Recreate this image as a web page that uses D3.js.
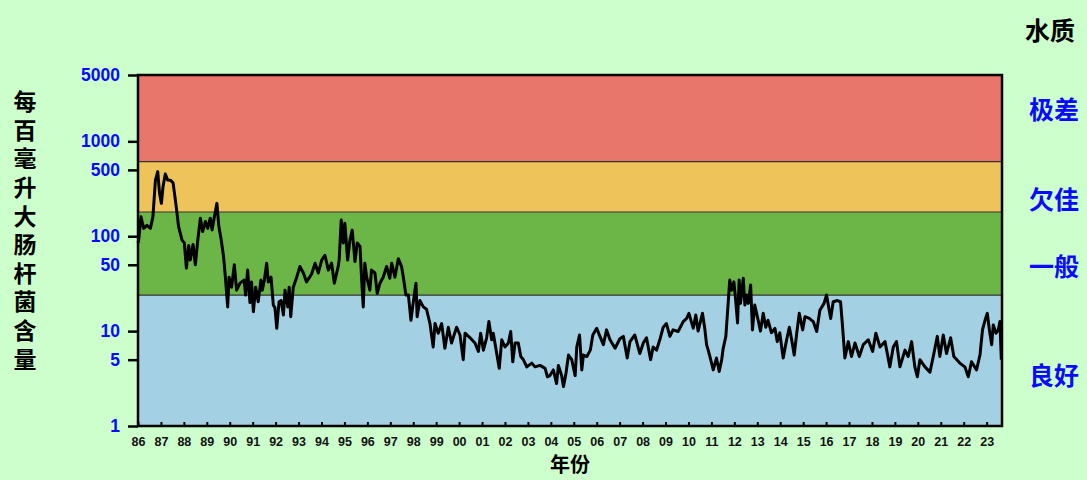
<!DOCTYPE html>
<html>
<head>
<meta charset="utf-8">
<script src="https://cdn.jsdelivr.net/npm/d3@7"></script>
<style>
  body { margin: 0; background: #ccffcc; }
  svg { display: block; }
</style>
</head>
<body>
<div id="main"></div>
<script>
var WIDTH = 1087
var HEIGHT = 480

// E. coli count per 100 mL, [year, value]
var ecoli = [
  [1986.00, 85], [1986.03, 91], [1986.13, 160], [1986.25, 121], [1986.39, 130], [1986.54, 121],
  [1986.65, 160], [1986.76, 390], [1986.86, 480], [1986.94, 282], [1987.02, 222], [1987.09, 332],
  [1987.19, 452], [1987.29, 392], [1987.41, 390], [1987.53, 365], [1987.63, 240], [1987.70, 175],
  [1987.77, 126], [1987.92, 91], [1988.02, 85], [1988.11, 46], [1988.21, 80], [1988.28, 56],
  [1988.40, 82], [1988.50, 50], [1988.60, 88], [1988.72, 155], [1988.82, 112], [1988.94, 143],
  [1989.04, 121], [1989.15, 155], [1989.23, 116], [1989.33, 160], [1989.44, 222], [1989.52, 130],
  [1989.62, 94], [1989.73, 61], [1989.81, 37], [1989.91, 18], [1989.97, 37], [1990.08, 29],
  [1990.20, 50], [1990.30, 27], [1990.45, 32], [1990.63, 34.5], [1990.69, 24], [1990.78, 44],
  [1990.88, 20], [1990.95, 33], [1991.03, 16], [1991.13, 29], [1991.24, 20.4], [1991.36, 34.5],
  [1991.42, 27], [1991.51, 34.5], [1991.61, 52], [1991.68, 33], [1991.80, 37], [1991.90, 18.8],
  [1991.97, 17.7], [1992.05, 10.7], [1992.15, 20.4], [1992.24, 21], [1992.34, 14.8], [1992.41, 27],
  [1992.53, 18], [1992.59, 29], [1992.66, 14.2], [1992.77, 29], [1992.92, 37], [1993.06, 48],
  [1993.21, 41], [1993.35, 33], [1993.57, 40], [1993.72, 52], [1993.86, 41], [1994.01, 56],
  [1994.15, 63], [1994.30, 44], [1994.44, 52], [1994.56, 32], [1994.73, 48], [1994.77, 56],
  [1994.86, 148], [1994.95, 85], [1995.02, 137], [1995.14, 56], [1995.24, 91], [1995.34, 116],
  [1995.46, 54], [1995.56, 85], [1995.68, 78], [1995.75, 35], [1995.82, 18], [1995.89, 52],
  [1995.97, 37], [1996.11, 27], [1996.18, 44], [1996.33, 41], [1996.43, 25], [1996.55, 32],
  [1996.69, 37], [1996.84, 48], [1996.98, 36], [1997.06, 52], [1997.20, 37], [1997.35, 58],
  [1997.49, 48], [1997.57, 37], [1997.68, 24], [1997.79, 24], [1997.90, 13], [1998.00, 20],
  [1998.12, 32], [1998.17, 14.2], [1998.29, 21], [1998.44, 18], [1998.58, 17], [1998.73, 12],
  [1998.87, 6.8], [1998.95, 12], [1999.09, 9.5], [1999.24, 12], [1999.38, 6.6], [1999.53, 11],
  [1999.67, 7.5], [1999.89, 11], [2000.04, 9.1], [2000.18, 5.0], [2000.26, 9.5], [2000.48, 8.5],
  [2000.69, 7.5], [2000.84, 6.1], [2000.94, 9.5], [2001.06, 6.3], [2001.20, 8.5], [2001.30, 12.6],
  [2001.42, 8.1], [2001.49, 9.5], [2001.64, 5.8], [2001.75, 4.05], [2001.86, 8.1], [2002.00, 6.8],
  [2002.15, 7.5], [2002.25, 9.9], [2002.34, 4.75], [2002.44, 7.5], [2002.58, 7.5], [2002.69, 5.4],
  [2002.80, 5.0], [2002.95, 4.2], [2003.17, 4.6], [2003.31, 4.2], [2003.53, 4.35], [2003.75, 4.05],
  [2003.85, 3.3], [2003.96, 3.4], [2004.11, 3.9], [2004.25, 2.8], [2004.33, 4.35], [2004.47, 3.4],
  [2004.55, 2.6], [2004.66, 3.6], [2004.77, 5.6], [2004.91, 5.0], [2005.06, 3.4], [2005.13, 6.8],
  [2005.25, 9.1], [2005.35, 3.9], [2005.42, 5.6], [2005.57, 5.4], [2005.72, 6.3], [2005.83, 9.1],
  [2006.00, 10.7], [2006.14, 8.8], [2006.29, 7.2], [2006.43, 10.3], [2006.58, 8.1], [2006.80, 6.6],
  [2007.01, 8.3], [2007.16, 8.8], [2007.33, 5.2], [2007.45, 7.75], [2007.66, 9.1], [2007.88, 5.8],
  [2008.03, 7.5], [2008.17, 8.5], [2008.35, 5.0], [2008.46, 6.8], [2008.61, 6.3], [2008.75, 8.1],
  [2008.90, 11], [2009.04, 12], [2009.19, 8.8], [2009.33, 10.3], [2009.55, 9.9], [2009.77, 12.6],
  [2009.92, 13.6], [2010.02, 15.4], [2010.21, 10.7], [2010.32, 14.8], [2010.42, 10], [2010.61, 15.4],
  [2010.71, 10.7], [2010.79, 7.2], [2010.86, 6.3], [2010.97, 5.0], [2011.08, 3.9], [2011.22, 5.2],
  [2011.34, 3.75], [2011.45, 5.0], [2011.51, 6.5], [2011.63, 8.8], [2011.73, 19.6], [2011.80, 34.5],
  [2011.88, 27], [2011.98, 33], [2012.06, 21], [2012.14, 12.2], [2012.21, 34.5], [2012.27, 19.6],
  [2012.39, 36], [2012.46, 18.8], [2012.53, 24], [2012.61, 19.6], [2012.71, 30.6], [2012.79, 10.3],
  [2012.89, 18.8], [2013.04, 13], [2013.14, 10], [2013.26, 15.4], [2013.37, 11], [2013.47, 13],
  [2013.62, 9.6], [2013.77, 10.7], [2013.87, 7.75], [2013.98, 9.6], [2014.13, 5.2], [2014.28, 8.1],
  [2014.40, 11], [2014.50, 8.1], [2014.61, 5.6], [2014.72, 9.5], [2014.83, 15.4], [2014.98, 10.3],
  [2015.08, 14.2], [2015.27, 13.6], [2015.44, 12.6], [2015.59, 9.9], [2015.73, 16.6], [2015.91, 19.6],
  [2016.02, 24], [2016.20, 13.6], [2016.31, 20.4], [2016.49, 21], [2016.63, 20.4], [2016.72, 11],
  [2016.82, 5.2], [2016.97, 7.75], [2017.11, 5.4], [2017.26, 7.5], [2017.45, 5.4], [2017.62, 7.2],
  [2017.84, 8.1], [2018.03, 6.1], [2018.17, 9.5], [2018.35, 6.8], [2018.57, 7.75], [2018.78, 4.2],
  [2018.93, 6.8], [2019.07, 7.75], [2019.22, 4.2], [2019.44, 6.3], [2019.58, 5.4], [2019.73, 7.75],
  [2019.87, 4.2], [2019.98, 3.3], [2020.09, 5.0], [2020.31, 4.2], [2020.53, 3.7], [2020.70, 5.8],
  [2020.85, 8.8], [2020.96, 5.4], [2021.11, 9.1], [2021.25, 5.8], [2021.43, 8.5], [2021.57, 5.4],
  [2021.83, 4.6], [2022.05, 4.2], [2022.20, 3.3], [2022.34, 4.75], [2022.56, 3.9], [2022.71, 5.6],
  [2022.82, 10.3], [2022.93, 13], [2023.03, 15.4], [2023.12, 10.3], [2023.22, 7.2], [2023.29, 11.6],
  [2023.41, 9.5], [2023.51, 10.3], [2023.58, 12.6], [2023.64, 5]
]

var yearTicks = d3.range(1986, 2024)
var countTicks = [1, 5, 10, 50, 100, 500, 1000, 5000]
var gradeLimits = [1, 24, 180, 610, 5000]
var gradeNames = ['良好', '一般', '欠佳', '极差']
var gradeColors = ['#a3d1e3', '#6cb647', '#eec35a', '#e8766a']
var yTitle = '每百毫升大肠杆菌含量'

var cjk = '"Noto Sans CJK SC", sans-serif'
var latin = '"Liberation Sans", Arial, sans-serif'
var blue = '#0a0aff'

const svg = d3.select('#main').append('svg')
    .attr('width', WIDTH)
    .attr('height', HEIGHT)

svg.append('rect').attr('width', WIDTH).attr('height', HEIGHT).attr('fill', '#ccffcc')

var x = d3.scaleLinear().domain([1986, 2023.67]).range([138, 1002])
var y = d3.scaleLog().domain([1, 5000]).range([426, 75])

// quality bands
var bands = d3.range(gradeNames.length).map(i => ({ lo: gradeLimits[i], hi: gradeLimits[i + 1], i: i }))
svg.selectAll('rect.band')
    .data(bands)
    .enter().append('rect')
    .attr('class', 'band')
    .attr('x', x.range()[0])
    .attr('width', x.range()[1] - x.range()[0])
    .attr('y', d => y(d.hi))
    .attr('height', d => y(d.lo) - y(d.hi))
    .attr('fill', d => gradeColors[d.i])

svg.selectAll('line.limit')
    .data(gradeLimits.slice(1, -1))
    .enter().append('line')
    .attr('class', 'limit')
    .attr('x1', x.range()[0]).attr('x2', x.range()[1])
    .attr('y1', d => y(d)).attr('y2', d => y(d))
    .attr('stroke', '#333').attr('stroke-width', 1.2)

// the series
var line = d3.line().x(d => x(d[0])).y(d => y(d[1]))
svg.append('path')
    .datum(ecoli)
    .attr('d', line)
    .attr('fill', 'none')
    .attr('stroke', '#000')
    .attr('stroke-width', 3)
    .attr('stroke-linejoin', 'round')

// frame
svg.append('rect')
    .attr('x', x.range()[0]).attr('y', y.range()[1])
    .attr('width', x.range()[1] - x.range()[0])
    .attr('height', y.range()[0] - y.range()[1])
    .attr('fill', 'none').attr('stroke', '#000').attr('stroke-width', 2.5)

// y axis
var yAxis = svg.append('g')
    .attr('transform', 'translate(' + x.range()[0] + ',0)')
    .call(d3.axisLeft(y).tickValues(countTicks).tickFormat(d3.format('d')).tickSize(10).tickPadding(8))
yAxis.select('.domain').remove()
yAxis.selectAll('line').attr('stroke', '#000').attr('stroke-width', 2.5)
yAxis.selectAll('text')
    .attr('fill', blue)
    .style('font', 'bold 17.5px ' + latin)

// x axis
var xAxis = svg.append('g')
    .attr('transform', 'translate(0,' + y.range()[0] + ')')
    .call(d3.axisBottom(x).tickValues(yearTicks).tickFormat(d => String(d).slice(2)).tickSize(-4).tickPadding(11))
xAxis.select('.domain').remove()
xAxis.selectAll('line').attr('stroke', '#000').attr('stroke-width', 2)
xAxis.selectAll('text')
    .attr('fill', '#111')
    .style('font', 'bold 12.5px ' + latin)

// titles
svg.append('text')
    .attr('x', 570).attr('y', 472)
    .attr('text-anchor', 'middle')
    .style('font', 'bold 20px ' + cjk)
    .text('年份')

svg.append('text')
    .attr('x', 25).attr('y', 90)
    .style('writing-mode', 'vertical-rl')
    .style('font', 'bold 23px ' + cjk)
    .style('letter-spacing', '5.6px')
    .text(yTitle)

svg.append('text')
    .attr('x', 1050).attr('y', 40)
    .attr('text-anchor', 'middle')
    .style('font', 'bold 25px ' + cjk)
    .text('水质')

var gradeLabelY = [385, 276, 209, 119]
svg.selectAll('text.grade')
    .data(gradeNames)
    .enter().append('text')
    .attr('class', 'grade')
    .attr('x', 1054)
    .attr('y', (d, i) => gradeLabelY[i])
    .attr('text-anchor', 'middle')
    .attr('fill', blue)
    .style('font', 'bold 25px ' + cjk)
    .text(d => d)
</script>
</body>
</html>
